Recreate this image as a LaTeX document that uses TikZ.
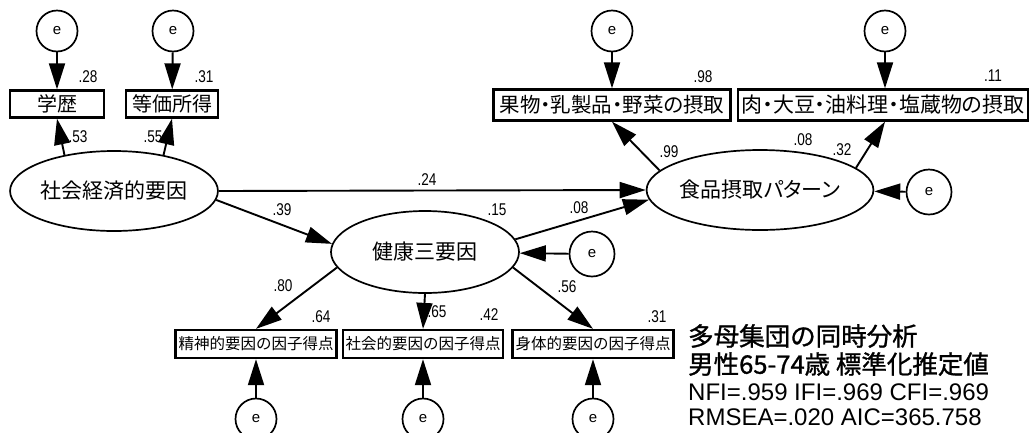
\documentclass[tikz,border=0pt]{standalone}
\usepackage{fontspec}
\usetikzlibrary{arrows.meta,shapes.geometric,calc}
\newfontfamily\jp{Noto Sans CJK JP}
\newfontfamily\jpp{Noto Sans CJK JP}[RawFeature=+palt]
\newfontfamily\jpm{Noto Sans CJK JP}[FakeBold=1.1]
\newfontfamily\numf{Liberation Sans}[FakeStretch=0.8]
\newfontfamily\latf{Liberation Sans}
\newcommand{\fs}[1]{\fontsize{#1}{#1}\selectfont}
\tikzset{
  obs/.style={draw, line width=2.3pt, inner sep=0pt, minimum height=28pt},
  lat/.style={draw, ellipse, line width=1.7pt, inner sep=0pt, minimum width=188pt, minimum height=80pt, font=\jp\fs{21}},
  err/.style={draw, circle, line width=1.7pt, minimum size=41pt, inner sep=0pt, font=\latf\fs{15}},
  arr/.style={-{Triangle[length=26pt,width=16pt]}, line width=1.9pt},
  lab/.style={font=\numf\fs{17}, inner sep=0pt},
  note/.style={anchor=west, inner sep=0pt}
}
\begin{document}
\begin{tikzpicture}[x=1pt,y=-1pt]
\useasboundingbox (0,0) rectangle (1030,432);
% error circles top
\node[err] (eA) at (57,31) {e};
\node[err] (eB) at (173,31) {e};
\node[err] (eC) at (612,31) {e};
\node[err] (eD) at (885,31) {e};
% observed top
\node[obs, minimum width=94pt, minimum height=27pt, font=\jp\fs{20}] (gak) at (57,104) {学歴};
\node[obs, minimum width=92pt, minimum height=27pt, font=\jp\fs{20}] (tou) at (172,104) {等価所得};
\node[obs, minimum width=237pt, minimum height=31pt, font=\jpp\fs{20.5}] (fru) at (612,105) {果物・乳製品・野菜の摂取};
\node[obs, minimum width=290pt, minimum height=31pt, font=\jpp\fs{21}] (mea) at (883,105) {肉・大豆・油料理・塩蔵物の摂取};
% latent
\node[lat] (soc) at (114,191) {社会経済的要因};
\node[lat, minimum width=190pt, font=\jpp\fs{21}] (food) at (760,190) {食品摂取パターン};
\node[lat, minimum height=82pt] (hea) at (425,252) {健康三要因};
\node[err, minimum size=45pt] (eE) at (929,192) {e};
\node[err, minimum size=45pt] (eF) at (592,254) {e};
% bottom observed
\node[obs, minimum width=161pt, font=\jp\fs{15.5}] (b1) at (256,344) {精神的要因の因子得点};
\node[obs, minimum width=160pt, font=\jp\fs{15.5}] (b2) at (423,344) {社会的要因の因子得点};
\node[obs, minimum width=161pt, font=\jp\fs{15.5}] (b3) at (593,344) {身体的要因の因子得点};
\node[err] (eG) at (256,419) {e};
\node[err] (eH) at (423,419) {e};
\node[err] (eI) at (593,419) {e};
% arrows
\draw[arr] (eA) -- (gak);
\draw[arr] (eB) -- (tou);
\draw[arr] (eC) -- (fru);
\draw[arr] (eD.south) -- (eD |- mea.north);
\draw[arr] (soc.144) -- (gak.south);
\draw[arr] (soc.36) -- (tou.south);
\draw[arr] (soc.east) -- (food.west);
\draw[arr] (soc.-5) -- (hea.175);
\draw[arr] (hea.8) -- (food.185);
\draw[arr] (eE) -- (food);
\draw[arr] (eF) -- (hea);
\draw[arr] (food.169) -- (fru.south);
\draw[arr] (food.13) -- (eD |- mea.south);
\draw[arr] (hea.190) -- (b1.north);
\draw[arr] (hea.south) -- (b2.north);
\draw[arr] (hea.-10) -- (b3.north);
\draw[arr] (eG) -- (b1);
\draw[arr] (eH) -- (b2);
\draw[arr] (eI) -- (b3);
% labels
\node[lab] (l1) at (88,77) {.28};
\node[lab] (l2) at (204,77) {.31};
\node[lab] (l3) at (78,137) {.53};
\node[lab] (l4) at (153,137) {.55};
\node[lab] (l5) at (703,77) {.98};
\node[lab] (l6) at (993,76) {.11};
\node[lab] (l7) at (669,152) {.99};
\node[lab] (l8) at (803,140) {.08};
\node[lab] (l9) at (842,150) {.32};
\node[lab] (l10) at (427,180) {.24};
\node[lab] (l11) at (282,210) {.39};
\node[lab] (l12) at (497,210) {.15};
\node[lab] (l13) at (579,208) {.08};
\node[lab] (l14) at (283,286) {.80};
\node[lab] (l15) at (321,317) {.64};
\node[lab] (l16) at (437,312) {.65};
\node[lab] (l17) at (489,315) {.42};
\node[lab] (l18) at (567,287) {.56};
\node[lab] (l19) at (657,317) {.31};
% note
\node[note, font=\jpm\fs{25.5}] (n1) at (688,336) {多母集団の同時分析};
\node[note, font=\jpm\fs{25.5}] (n2) at (688,364) {男性65-74歳 標準化推定値};
\node[note, font=\latf\fs{24}] (n3) at (688,392) {NFI=.959 IFI=.969 CFI=.969};
\node[note, font=\latf\fs{24}] (n4) at (688,417) {RMSEA=.020 AIC=365.758};
\end{tikzpicture}
\end{document}
